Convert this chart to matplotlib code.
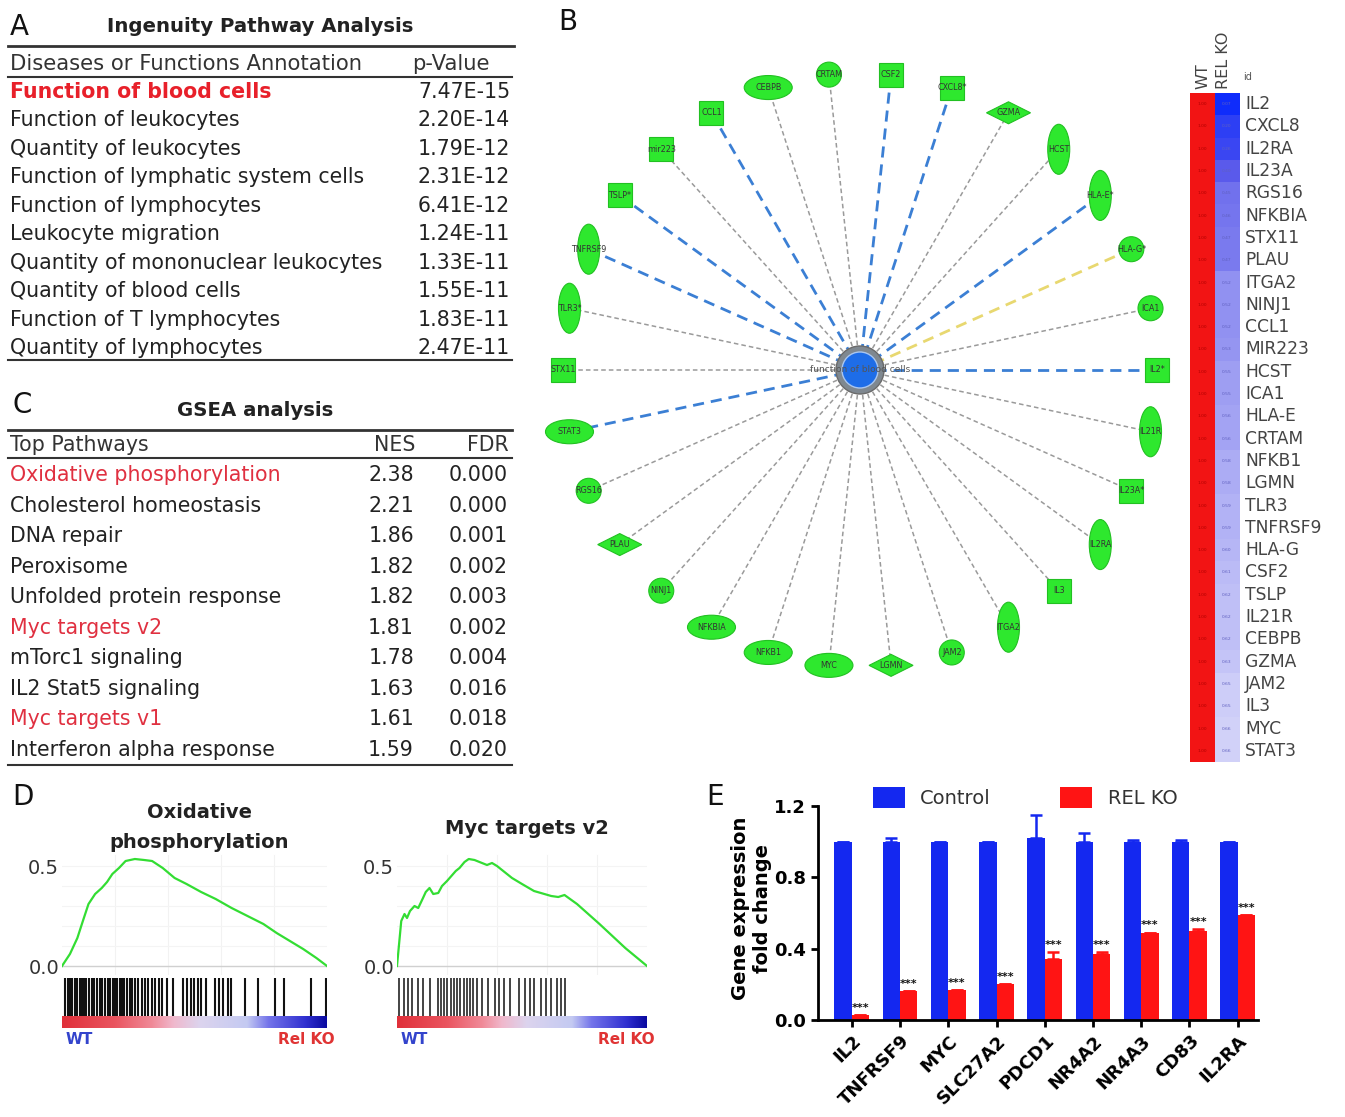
import numpy as np
import matplotlib
matplotlib.use('Agg')
import matplotlib.pyplot as plt
from matplotlib.patches import Ellipse, Rectangle, Polygon, Circle
from matplotlib.colors import LinearSegmentedColormap

W, H = 1345, 1117
plt.rcParams['font.family'] = ['DejaVu Sans']

# ---------------- data ----------------
ipa_terms = ['Function of blood cells', 'Function of leukocytes', 'Quantity of leukocytes',
             'Function of lymphatic system cells', 'Function of lymphocytes', 'Leukocyte migration',
             'Quantity of mononuclear leukocytes', 'Quantity of blood cells',
             'Function of T lymphocytes', 'Quantity of lymphocytes']
ipa_pvals = ['7.47E-15', '2.20E-14', '1.79E-12', '2.31E-12', '6.41E-12', '1.24E-11',
             '1.33E-11', '1.55E-11', '1.83E-11', '2.47E-11']

gsea_paths = ['Oxidative phosphorylation', 'Cholesterol homeostasis', 'DNA repair', 'Peroxisome',
              'Unfolded protein response', 'Myc targets v2', 'mTorc1 signaling',
              'IL2 Stat5 signaling', 'Myc targets v1', 'Interferon alpha response']
gsea_nes = ['2.38', '2.21', '1.86', '1.82', '1.82', '1.81', '1.78', '1.63', '1.61', '1.59']
gsea_fdr = ['0.000', '0.000', '0.001', '0.002', '0.003', '0.002', '0.004', '0.016', '0.018', '0.020']
gsea_red = ['Oxidative phosphorylation', 'Myc targets v2', 'Myc targets v1']

net_genes = ['CCL1', 'CEBPB', 'CRTAM', 'CSF2', 'CXCL8*', 'GZMA', 'HCST', 'HLA-E*', 'HLA-G*', 'ICA1',
             'IL2*', 'IL21R', 'IL23A*', 'IL2RA', 'IL3', 'ITGA2', 'JAM2', 'LGMN', 'MYC', 'NFKB1',
             'NFKBIA', 'NINJ1', 'PLAU', 'RGS16', 'STAT3', 'STX11', 'TLR3*', 'TNFRSF9', 'TSLP*', 'mir223']
net_shapes = ['square', 'wide', 'circle', 'square', 'square', 'diamond', 'tall', 'tall', 'circle', 'circle',
              'square', 'tall', 'square', 'tall', 'square', 'tall', 'circle', 'diamond', 'wide', 'wide',
              'wide', 'circle', 'diamond', 'circle', 'wide', 'square', 'tall', 'tall', 'square', 'square']
net_edges = ['blue', 'grey', 'grey', 'blue', 'blue', 'grey', 'grey', 'blue', 'yellow', 'grey',
             'blue', 'grey', 'grey', 'grey', 'grey', 'grey', 'grey', 'grey', 'grey', 'grey',
             'grey', 'grey', 'grey', 'grey', 'blue', 'grey', 'grey', 'blue', 'blue', 'grey']
center_label = 'function of blood cells'

heat_genes = ['IL2', 'CXCL8', 'IL2RA', 'IL23A', 'RGS16', 'NFKBIA', 'STX11', 'PLAU', 'ITGA2', 'NINJ1',
              'CCL1', 'MIR223', 'HCST', 'ICA1', 'HLA-E', 'CRTAM', 'NFKB1', 'LGMN', 'TLR3', 'TNFRSF9',
              'HLA-G', 'CSF2', 'TSLP', 'IL21R', 'CEBPB', 'GZMA', 'JAM2', 'IL3', 'MYC', 'STAT3']
heat_wt = [1.00, 1.00, 1.00, 1.00, 1.00, 1.00, 1.00, 1.00, 1.00, 1.00,
           1.00, 1.00, 1.00, 1.00, 1.00, 1.00, 1.00, 1.00, 1.00, 1.00,
           1.00, 1.00, 1.00, 1.00, 1.00, 1.00, 1.00, 1.00, 1.00, 1.00]
heat_ko = [0.07, 0.20, 0.26, 0.40, 0.45, 0.46, 0.47, 0.47, 0.52, 0.52,
           0.52, 0.53, 0.55, 0.55, 0.56, 0.56, 0.58, 0.58, 0.59, 0.59,
           0.60, 0.61, 0.62, 0.62, 0.62, 0.63, 0.65, 0.65, 0.66, 0.66]

oxphos_x = [0, 0.03, 0.058, 0.08, 0.10, 0.125, 0.15, 0.17, 0.19, 0.215, 0.24, 0.275, 0.31, 0.34,
            0.38, 0.425, 0.47, 0.525, 0.58, 0.64, 0.70, 0.76, 0.81, 0.86, 0.91, 0.96, 1.0]
oxphos_es = [0, 0.06, 0.14, 0.23, 0.31, 0.36, 0.39, 0.42, 0.46, 0.49, 0.525, 0.535, 0.53, 0.525,
             0.49, 0.44, 0.41, 0.37, 0.335, 0.29, 0.25, 0.21, 0.165, 0.125, 0.085, 0.04, 0.0]
myc_x = [0, 0.017, 0.03, 0.04, 0.052, 0.07, 0.085, 0.104, 0.115, 0.13, 0.145, 0.165, 0.18, 0.2,
         0.235, 0.25, 0.27, 0.287, 0.31, 0.34, 0.36, 0.38, 0.40, 0.46, 0.50, 0.548, 0.617, 0.645,
         0.67, 0.72, 0.81, 0.913, 1.0]
myc_es = [0, 0.225, 0.26, 0.24, 0.275, 0.30, 0.29, 0.34, 0.37, 0.39, 0.36, 0.365, 0.40, 0.425,
          0.475, 0.49, 0.52, 0.535, 0.53, 0.515, 0.505, 0.515, 0.50, 0.44, 0.41, 0.375, 0.35, 0.345,
          0.355, 0.31, 0.21, 0.09, 0.0]
oxphos_hits = [1.2, 2.2, 3.0, 3.8, 4.8, 5.8, 6.7, 7.5, 8.3, 9.2, 10.2, 11.2, 12.2, 13.2, 14.2,
               15.2, 16.2, 17.2, 18.2, 19.2, 20.0, 20.8, 21.7, 22.5, 23.5, 24.5, 25.5, 26.5, 27.5,
               28.8, 30.2, 31.5, 32.5, 33.8, 35.2, 36.5, 37.8, 39.8, 41.8, 45.8, 47.2, 48.5, 49.8,
               51.2, 52.5, 54.2, 57.8, 59.2, 60.8, 62.5, 63.8, 69.2, 73.8, 80.5, 83.8, 93.8, 99.5]
myc_hits = [0.9, 2.6, 4.3, 6.1, 8.2, 10.4, 13.0, 16.2, 17.4, 18.6, 20.0, 21.4, 22.6, 23.8, 25.2,
            26.6, 27.8, 29.0, 30.4, 31.8, 33.9, 36.5, 39.1, 40.9, 42.6, 45.2, 48.7, 51.3, 53.0,
            54.8, 57.4, 59.6, 61.7, 63.8, 65.6, 67.3]

e_genes = ['IL2', 'TNFRSF9', 'MYC', 'SLC27A2', 'PDCD1', 'NR4A2', 'NR4A3', 'CD83', 'IL2RA']
e_ctrl = [1.0, 1.0, 1.0, 1.0, 1.02, 1.0, 1.0, 1.0, 1.0]
e_ctrl_err = [0.0, 0.02, 0.0, 0.0, 0.13, 0.05, 0.01, 0.01, 0.0]
e_ko = [0.03, 0.16, 0.17, 0.20, 0.34, 0.37, 0.49, 0.50, 0.59]
e_ko_err = [0.0, 0.0, 0.0, 0.0, 0.04, 0.01, 0.0, 0.01, 0.0]
e_sig = ['***', '***', '***', '***', '***', '***', '***', '***', '***']

# ---------------- figure ----------------
fig = plt.figure(figsize=(W / 100, H / 100), dpi=100)
bg = fig.add_axes([0, 0, 1, 1])
bg.set_xlim(0, W)
bg.set_ylim(H, 0)
bg.axis('off')


def ax_px(x0, y0, x1, y1):
    a = fig.add_axes([x0 / W, 1 - y1 / H, (x1 - x0) / W, (y1 - y0) / H])
    a.set_facecolor('none')
    return a


TXT = '#222222'
FS = 14.8
# panel letters
for lab, (x, y) in zip('ABCDE', [(10, 27), (558, 22), (12, 405), (12, 797), (706, 797)]):
    bg.text(x, y, lab, fontsize=20, va='center', ha='left', color='#111111')

# ---------- Panel A table ----------
bg.text(260, 27, 'Ingenuity Pathway Analysis', fontsize=14.2, fontweight='bold', ha='center',
        va='center', color=TXT)
bg.plot([8, 514], [46, 46], color='#333333', lw=2)
bg.plot([8, 512], [77, 77], color='#333333', lw=1.5)
bg.plot([8, 512], [360, 360], color='#333333', lw=1.5)
bg.text(10, 64, 'Diseases or Functions Annotation', fontsize=15.2, ha='left', va='center', color='#333333')
bg.text(412, 64, 'p-Value', fontsize=15.2, ha='left', va='center', color='#333333')
rows_a = np.linspace(92, 348, len(ipa_terms))
for i, (t, p) in enumerate(zip(ipa_terms, ipa_pvals)):
    if i == 0:
        bg.text(10, rows_a[i], t, fontsize=FS, fontweight='bold', color='#e8202a', ha='left', va='center')
    else:
        bg.text(10, rows_a[i], t, fontsize=FS, color=TXT, ha='left', va='center')
    bg.text(510, rows_a[i], p, fontsize=FS, color=TXT, ha='right', va='center')

# ---------- Panel C table ----------
bg.text(255, 410, 'GSEA analysis', fontsize=14.2, fontweight='bold', ha='center', va='center', color=TXT)
bg.plot([8, 512], [430, 430], color='#333333', lw=2)
bg.plot([8, 512], [458, 458], color='#333333', lw=1.5)
bg.plot([8, 512], [765, 765], color='#333333', lw=1.5)
bg.text(10, 445, 'Top Pathways', fontsize=FS, ha='left', va='center', color='#333333')
bg.text(415, 445, 'NES', fontsize=FS, ha='right', va='center', color='#333333')
bg.text(509, 445, 'FDR', fontsize=FS, ha='right', va='center', color='#333333')
rows_c = np.linspace(475, 750, len(gsea_paths))
for i, (t, n, f) in enumerate(zip(gsea_paths, gsea_nes, gsea_fdr)):
    col = '#e03040' if t in gsea_red else TXT
    bg.text(10, rows_c[i], t, fontsize=FS, color=col, ha='left', va='center')
    bg.text(414, rows_c[i], n, fontsize=FS, color=TXT, ha='right', va='center')
    bg.text(508, rows_c[i], f, fontsize=FS, color=TXT, ha='right', va='center')

# ---------- Panel B network ----------
cx, cy, R = 860, 370, 297
ang = np.deg2rad((330 + 12 * np.arange(len(net_genes))) % 360)
nx = cx + R * np.sin(ang)
ny = cy - R * np.cos(ang)
edge_style = {'grey': dict(color='#9a9a9a', lw=1.1, dashes=(3, 2)),
              'blue': dict(color='#3b7fd4', lw=2.0, dashes=(4, 2.5)),
              'yellow': dict(color='#e8d870', lw=2.0, dashes=(4, 2.5))}
for x, y, e in zip(nx, ny, net_edges):
    st = edge_style[e]
    bg.plot([x, cx], [y, cy], color=st['color'], lw=st['lw'], dashes=st['dashes'], zorder=2)

GREEN = '#2ee82e'
for x, y, s, g in zip(nx, ny, net_shapes, net_genes):
    if s == 'square':
        p = Rectangle((x - 12, y - 12), 24, 24, fc=GREEN, ec='#22c022', lw=0.8, zorder=3)
    elif s == 'tall':
        p = Ellipse((x, y), 22, 50, fc=GREEN, ec='#22c022', lw=0.8, zorder=3)
    elif s == 'wide':
        p = Ellipse((x, y), 48, 24, fc=GREEN, ec='#22c022', lw=0.8, zorder=3)
    elif s == 'circle':
        p = Ellipse((x, y), 25, 25, fc=GREEN, ec='#22c022', lw=0.8, zorder=3)
    else:
        p = Polygon([[x - 22, y], [x, y - 11], [x + 22, y], [x, y + 11]], closed=True,
                    fc=GREEN, ec='#22c022', lw=0.8, zorder=3)
    bg.add_patch(p)
    bg.text(x, y, g, fontsize=5.8, color='#333333', ha='center', va='center', zorder=4)

bg.add_patch(Circle((cx, cy), 24, fc='#7f8890', ec='#6a6a6a', lw=1, zorder=5))
bg.add_patch(Circle((cx, cy), 18, fc='#1e6de8', ec='#a9c6f0', lw=1, zorder=6))
bg.text(cx, cy, center_label, fontsize=6.5, color='#555555', ha='center', va='center', zorder=7)

# ---------- heatmap ----------
hm_cmap = LinearSegmentedColormap.from_list('hm', [(0.0, '#0024ff'), (0.4, '#5a5aeb'),
                                                   (0.7, '#e4e4fb'), (0.85, '#ffffff'),
                                                   (1.0, '#f21414')])
hm = np.column_stack([heat_wt, heat_ko])
x0h, x1h, y0h, y1h = 1190, 1240, 93, 762
bg.imshow(hm, cmap=hm_cmap, vmin=0, vmax=1, extent=(x0h, x1h, y1h, y0h), aspect='auto',
          interpolation='nearest', zorder=2)
bg.set_xlim(0, W)
bg.set_ylim(H, 0)
rh = (y1h - y0h) / len(heat_genes)
for i, g in enumerate(heat_genes):
    yc = y0h + rh * (i + 0.5)
    bg.text(1245, yc, g, fontsize=12.3, color='#444444', ha='left', va='center')
    bg.text(x0h + 12, yc, f'{heat_wt[i]:.2f}', fontsize=3.2, color='#b00000', ha='center', va='center', zorder=3)
    bg.text(x0h + 37, yc, f'{heat_ko[i]:.2f}', fontsize=3.2, color='#6060c0', ha='center', va='center', zorder=3)
bg.text(1203, 89, 'WT', fontsize=11.5, color='#444444', rotation=90, ha='center', va='bottom')
bg.text(1224, 89, 'REL KO', fontsize=11.5, color='#444444', rotation=90, ha='center', va='bottom')
bg.text(1243, 77, 'id', fontsize=7, color='#555555', ha='left', va='center')

# ---------- Panel D GSEA ----------
bar_cmap = LinearSegmentedColormap.from_list('rk', [(0.0, '#e0303a'), (0.2, '#ea5560'), (0.34, '#f08a98'),
                                                    (0.42, '#f0b8cc'), (0.52, '#dcd4ee'), (0.7, '#c4caf2'),
                                                    (0.78, '#7474ea'), (0.92, '#3030d0'), (1.0, '#0a0aa0')])


def gsea(x0, x1, xs, es, hits, title, title_y, hit_lw):
    for ty, tt in zip(title_y, title):
        bg.text((x0 + x1) / 2 + 5, ty, tt, fontsize=14, fontweight='bold', ha='center', va='center', color=TXT)
    a = ax_px(x0, 845, x1, 975)
    a.plot(xs, es, color='#33dd33', lw=1.6, zorder=3)
    a.set_xlim(0, 1)
    a.set_ylim(-0.045, 0.605)
    for s in a.spines.values():
        s.set_visible(False)
    a.set_xticks([])
    a.set_yticks([0.0, 0.5])
    a.set_yticklabels(['0.0', '0.5'], fontsize=14, color='#333333')
    a.tick_params(axis='y', length=0, pad=2)
    a.axhline(0, color='#d0d0d0', lw=1)
    for gx in [0.2, 0.4, 0.6, 0.8]:
        a.axvline(gx, ymax=0.92, color='#f2f2f2', lw=0.8, zorder=0)
    for gy in [0.1, 0.2, 0.3, 0.4, 0.5]:
        a.axhline(gy, color='#f4f4f4', lw=0.8, zorder=0)
    b = ax_px(x0, 978, x1, 1016)
    b.vlines(np.array(hits) / 100.0, 0, 1, color='#111111', lw=hit_lw)
    b.set_xlim(0, 1)
    b.set_ylim(0, 1)
    b.axis('off')
    c = ax_px(x0, 1016, x1, 1028)
    c.imshow(np.linspace(0, 1, 256)[None, :], cmap=bar_cmap, aspect='auto', extent=(0, 1, 0, 1))
    c.axis('off')
    bg.text(x0 + 4, 1040, 'WT', fontsize=11, fontweight='bold', color='#3344cc', ha='left', va='center')
    bg.text(x1 + 8, 1040, 'Rel KO', fontsize=11, fontweight='bold', color='#e03434', ha='right', va='center')


gsea(62, 327, oxphos_x, oxphos_es, oxphos_hits, ['Oxidative', 'phosphorylation'], [812, 842], 1.5)
gsea(397, 647, myc_x, myc_es, myc_hits, ['Myc targets v2'], [828], 1.1)

# ---------- Panel E bars ----------
ae = ax_px(818, 806, 1258, 1020)
xpos = np.arange(len(e_genes))
bw = 0.36
BLUE = '#1428f0'
RED = '#ff1414'
ae.bar(xpos - bw / 2, e_ctrl, width=bw, color=BLUE,
       yerr=[np.zeros(len(e_ctrl)), e_ctrl_err], error_kw=dict(ecolor=BLUE, capsize=4, lw=1.8, capthick=1.8))
ae.bar(xpos + bw / 2, e_ko, width=bw, color=RED,
       yerr=[np.zeros(len(e_ko)), e_ko_err], error_kw=dict(ecolor=RED, capsize=4, lw=1.8, capthick=1.8))
for x, v, er, s in zip(xpos, e_ko, e_ko_err, e_sig):
    ae.text(x + bw / 2, v + er + 0.012, s, fontsize=8, fontweight='bold', ha='center', va='bottom', color='#111111')
ae.set_xlim(-0.7, 8.42)
ae.set_ylim(0, 1.2)
ae.spines['top'].set_visible(False)
ae.spines['right'].set_visible(False)
ae.spines['left'].set_linewidth(2)
ae.spines['bottom'].set_linewidth(2)
ae.set_yticks([0.0, 0.4, 0.8, 1.2])
ae.set_yticklabels(['0.0', '0.4', '0.8', '1.2'], fontsize=13, fontweight='bold')
ae.set_xticks(xpos)
ae.set_xticklabels(e_genes, rotation=45, ha='right', rotation_mode='anchor', fontsize=13, fontweight='bold')
ae.tick_params(axis='both', width=2, length=5)
ae.set_ylabel('Gene expression\nfold change', fontsize=14, fontweight='bold', linespacing=1.2)
ae.yaxis.set_label_coords(-0.105, 0.52)

bg.add_patch(Rectangle((873, 787), 32, 21, fc=BLUE, ec='none'))
bg.text(920, 798, 'Control', fontsize=14, ha='left', va='center', color='#333333')
bg.add_patch(Rectangle((1060, 787), 32, 21, fc=RED, ec='none'))
bg.text(1108, 798, 'REL KO', fontsize=14, ha='left', va='center', color='#333333')

fig.savefig('out.png', dpi=100)
